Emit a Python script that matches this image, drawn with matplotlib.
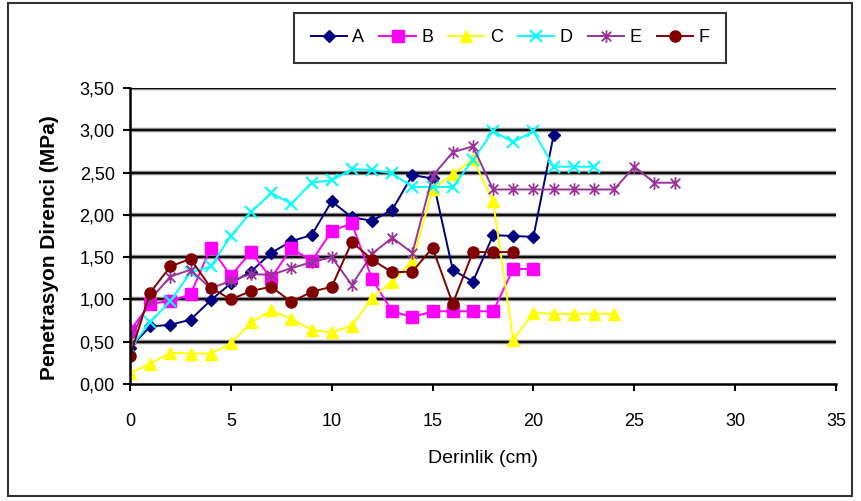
import matplotlib.pyplot as plt
import numpy as np
from matplotlib.path import Path
from matplotlib.ticker import FuncFormatter

plt.rcParams['font.family'] = ['Liberation Sans', 'DejaVu Sans']

# depth (cm) for each series
depth_a = list(range(0, 22))
depth_b = list(range(0, 21))
depth_c = list(range(0, 25))
depth_d = list(range(0, 24))
depth_e = list(range(0, 28))
depth_f = list(range(0, 20))

# penetration resistance (MPa)
res_a = [0.43, 0.68, 0.70, 0.76, 0.99, 1.19, 1.33, 1.55, 1.69, 1.76, 2.16, 1.97, 1.93, 2.06,
         2.47, 2.43, 1.35, 1.21, 1.76, 1.75, 1.74, 2.94]
res_b = [0.63, 0.95, 0.98, 1.06, 1.61, 1.28, 1.56, 1.25, 1.61, 1.45, 1.81, 1.90, 1.24, 0.86,
         0.79, 0.86, 0.86, 0.86, 0.86, 1.36, 1.36]
res_c = [0.13, 0.24, 0.37, 0.36, 0.36, 0.48, 0.73, 0.87, 0.77, 0.64, 0.61, 0.69, 1.02, 1.21,
         1.45, 2.30, 2.48, 2.66, 2.16, 0.52, 0.84, 0.83, 0.83, 0.83, 0.83]
res_d = [0.42, 0.73, 0.98, 1.32, 1.39, 1.75, 2.03, 2.26, 2.13, 2.38, 2.41, 2.54, 2.53, 2.49,
         2.33, 2.33, 2.33, 2.65, 2.99, 2.86, 2.99, 2.57, 2.57, 2.57]
res_e = [0.52, 1.00, 1.27, 1.35, 1.13, 1.22, 1.30, 1.29, 1.37, 1.44, 1.50, 1.17, 1.54, 1.73,
         1.55, 2.46, 2.74, 2.81, 2.30, 2.30, 2.30, 2.30, 2.30, 2.30, 2.30, 2.57, 2.38, 2.38]
res_f = [0.33, 1.08, 1.39, 1.48, 1.14, 1.00, 1.10, 1.15, 0.97, 1.09, 1.15, 1.68, 1.47, 1.32,
         1.33, 1.61, 0.95, 1.56, 1.56, 1.56]

labels = ['A', 'B', 'C', 'D', 'E', 'F']

# Excel-style star: an x with a vertical bar
star = Path([(-1, -1), (1, 1), (-1, 1), (1, -1), (0, -1.3), (0, 1.3)],
            [Path.MOVETO, Path.LINETO, Path.MOVETO, Path.LINETO, Path.MOVETO, Path.LINETO])

styles = [
    dict(color='#000080', marker='D', ms=6),
    dict(color='#FF00FF', marker='s', ms=8),
    dict(color='#FFFF00', marker='^', ms=8),
    dict(color='#00FFFF', marker='x', ms=8, mew=1.5),
    dict(color='#993399', marker=star, ms=9, mew=1.3),
    dict(color='#800000', marker='o', ms=8),
]

series = [(depth_a, res_a), (depth_b, res_b), (depth_c, res_c),
          (depth_d, res_d), (depth_e, res_e), (depth_f, res_f)]

fig = plt.figure(figsize=(8.61, 5.01), dpi=100)
ax = fig.add_axes([130 / 861, 1 - 384 / 501, 706 / 861, 296 / 501])

for yv in np.arange(0.5, 3.51, 0.5):
    ax.axhline(yv, color='#888888', lw=3.2, zorder=0.5)
    ax.axhline(yv, color='black', lw=1.3, zorder=0.6)

for (xs, ys), lab, st in zip(series, labels, styles):
    ax.plot(xs, ys, lw=1.4, label=lab, zorder=3, **st)

ax.set_xlim(0, 35)
ax.set_ylim(0, 3.5)
ax.set_xticks(range(0, 36, 5))
ax.set_yticks(np.arange(0, 3.51, 0.5))
ax.yaxis.set_major_formatter(FuncFormatter(lambda v, p: f'{v:.2f}'.replace('.', ',')))
ax.tick_params(axis='both', direction='out', length=5, width=1.5, labelsize=13,
               colors='black')
ax.tick_params(axis='x', pad=16)
ax.tick_params(axis='y', pad=6)

for side in ['top', 'right']:
    ax.spines[side].set_visible(False)
for side in ['left', 'bottom']:
    ax.spines[side].set_linewidth(1.8)
ax.spines['left'].set_zorder(4)

ax.set_xlabel('Derinlik (cm)', fontsize=14, labelpad=14)
ax.set_ylabel('Penetrasyon Direnci (MPa)', fontsize=15, fontweight='bold')
ax.yaxis.set_label_coords(-0.10, 0.46)

leg = fig.legend(loc='center', bbox_to_anchor=(510 / 861, 1 - 38 / 501), ncol=6,
                 fontsize=13, handlelength=2.0, handletextpad=0.3, columnspacing=0.85,
                 fancybox=False, edgecolor='black', borderpad=0.9, borderaxespad=0)
leg.get_frame().set_linewidth(1.5)

# outer chart border
fig.add_artist(plt.Rectangle((8 / 861, 5 / 501), 844 / 861, 493 / 501,
                             transform=fig.transFigure, fill=False,
                             edgecolor='#333333', lw=1.5))

fig.savefig('out.png', dpi=100)
